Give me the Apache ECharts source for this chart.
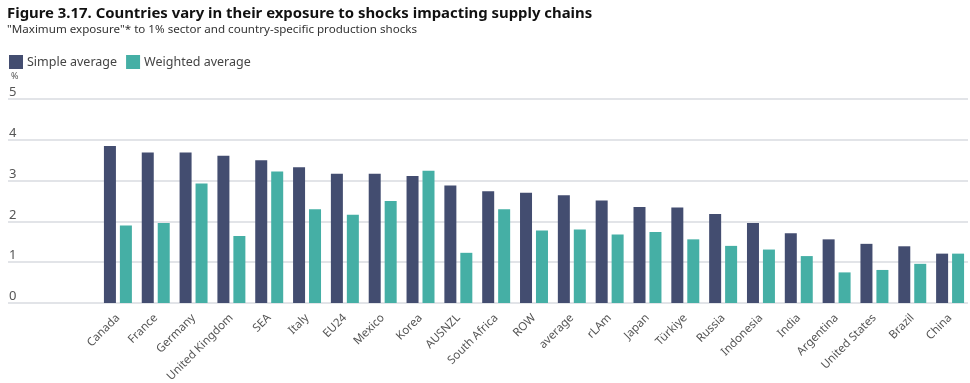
<!DOCTYPE html>
<html><head><meta charset="utf-8">
<script src="https://cdn.jsdelivr.net/npm/echarts@6/dist/echarts.min.js"></script>
<style>html,body{margin:0;padding:0;background:#fff}#c{width:970px;height:383px}</style>
</head><body><div id="c"></div>
<script>
const categories = ["Canada","France","Germany","United Kingdom","SEA","Italy","EU24","Mexico","Korea","AUSNZL","South Africa","ROW","average","rLAm","Japan","Türkiye","Russia","Indonesia","India","Argentina","United States","Brazil","China"];
const simpleAverage = [3.85,3.69,3.69,3.61,3.50,3.33,3.17,3.17,3.11,2.88,2.74,2.70,2.64,2.51,2.35,2.34,2.18,1.96,1.71,1.56,1.45,1.39,1.21];
const weightedAverage = [1.90,1.96,2.93,1.64,3.22,2.30,2.16,2.50,3.24,1.23,2.30,1.78,1.80,1.68,1.74,1.56,1.40,1.31,1.15,0.75,0.81,0.96,1.21];
const yTicks = [0,1,2,3,4,5];

const font = "'Noto Sans', 'Open Sans', sans-serif";
const chart = echarts.init(document.getElementById('c'), null, {renderer:'canvas'});
chart.setOption({
  animation:false,
  textStyle:{fontFamily:font},
  title:{
    text:"Figure 3.17. Countries vary in their exposure to shocks impacting supply chains",
    subtext:"\"Maximum exposure\"* to 1% sector and country-specific production shocks",
    left:2, top:1, itemGap:3,
    textStyle:{fontFamily:font,fontSize:14.9,fontWeight:'bold',color:'#111'},
    subtextStyle:{fontFamily:font,fontSize:11.6,color:'#333'}
  },
  legend:{
    left:4, top:50, itemWidth:14, itemHeight:14, itemGap:9, icon:'rect',
    textStyle:{fontFamily:font,fontSize:12.5,color:'#444',padding:[0,0,0,-1]},
    data:['Simple average','Weighted average']
  },
  grid:[
    {left:8,right:2,top:99,bottom:80,containLabel:false,outerBoundsMode:'none'},
    {left:99,right:1,top:99,bottom:80,containLabel:false,outerBoundsMode:'none'}
  ],
  xAxis:[
    {type:'value',gridIndex:0,show:false,min:0,max:1},
    {type:'category',gridIndex:1,data:categories,
     axisLine:{show:false},axisTick:{show:false},
     axisLabel:{rotate:45,interval:0,margin:13,fontSize:11.5,color:'#555',fontFamily:font}}
  ],
  yAxis:[
    {type:'value',gridIndex:0,min:yTicks[0],max:yTicks[yTicks.length-1],interval:1,
     name:'%',nameLocation:'end',nameGap:18,
     nameTextStyle:{align:'left',fontSize:9,color:'#555',padding:[0,0,0,3]},
     axisLine:{show:false},axisTick:{show:false},
     axisLabel:{inside:true,verticalAlign:'bottom',margin:1,fontSize:13,color:'#555',padding:[0,0,0,0]},
     splitLine:{lineStyle:{color:'#d8dbe0',width:1.5}}},
    {type:'value',gridIndex:1,min:0,max:5,show:false,splitLine:{show:false}}
  ],
  series:[
    {name:'Simple average',type:'bar',xAxisIndex:1,yAxisIndex:1,data:simpleAverage,
     barWidth:12,barGap:'33%',itemStyle:{color:'#434d70'}},
    {name:'Weighted average',type:'bar',xAxisIndex:1,yAxisIndex:1,data:weightedAverage,
     barWidth:12,barGap:'33%',itemStyle:{color:'#45afa5'}}
  ]
});
</script></body></html>
